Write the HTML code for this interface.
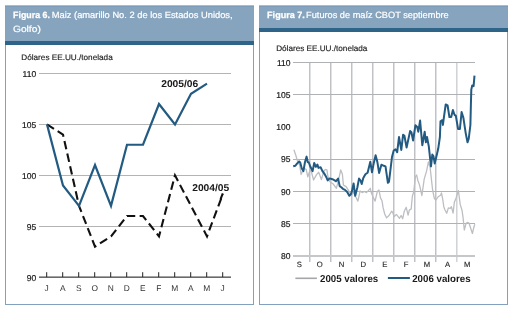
<!DOCTYPE html>
<html><head><meta charset="utf-8"><style>
html,body{margin:0;padding:0;background:#fff;}
body{width:512px;height:310px;overflow:hidden;position:relative;}
svg{position:absolute;left:0;top:0;will-change:transform;}
text{font-family:"Liberation Sans", sans-serif;text-rendering:geometricPrecision;}
</style></head><body>
<svg width="512" height="310" viewBox="0 0 512 310">
<rect x="5.5" y="5.5" width="248" height="299" fill="#fff" stroke="#82a1bf" stroke-width="1"/>
<rect x="5" y="5" width="249" height="36" fill="#87a4bf"/>
<rect x="5" y="5" width="249" height="1" fill="#a9bdd0"/>
<rect x="5" y="6" width="249" height="1" fill="#7d9cb9"/>
<rect x="5" y="41" width="249" height="4" fill="#2d6487"/>
<rect x="259.5" y="5.5" width="248" height="299" fill="#fff" stroke="#82a1bf" stroke-width="1"/>
<rect x="259" y="5" width="249" height="23" fill="#87a4bf"/>
<rect x="259" y="5" width="249" height="1" fill="#a9bdd0"/>
<rect x="259" y="6" width="249" height="1" fill="#7d9cb9"/>
<rect x="259" y="28" width="249" height="4" fill="#2d6487"/>
<text x="13.1" y="18.2" font-size="9.1" font-weight="bold" fill="#fff" stroke="#fff" stroke-width="0.25" textLength="36.91" lengthAdjust="spacingAndGlyphs">Figura 6.</text>
<text x="51.8" y="18.3" font-size="9.1" font-weight="normal" fill="#fff" stroke="#fff" stroke-width="0.2" textLength="180.81" lengthAdjust="spacingAndGlyphs">Maiz (amarillo No. 2 de los Estados Unidos,</text>
<text x="12.9" y="31.5" font-size="9.1" font-weight="normal" fill="#fff" stroke="#fff" stroke-width="0.2" textLength="27.97" lengthAdjust="spacingAndGlyphs">Golfo)</text>
<text x="267.1" y="18.1" font-size="9.1" font-weight="bold" fill="#fff" stroke="#fff" stroke-width="0.25" textLength="37.71" lengthAdjust="spacingAndGlyphs">Figura 7.</text>
<text x="306.1" y="18.1" font-size="9.1" font-weight="normal" fill="#fff" stroke="#fff" stroke-width="0.2" textLength="142.64" lengthAdjust="spacingAndGlyphs">Futuros de maíz CBOT septiembre</text>
<text x="21.3" y="59.9" font-size="8.0" font-weight="normal" fill="#222" stroke="#222" stroke-width="0.15" textLength="91.39" lengthAdjust="spacingAndGlyphs">Dólares EE.UU./tonelada</text>
<rect x="39" y="73" width="192" height="1" fill="#b4b4b4"/>
<rect x="39" y="124" width="192" height="1" fill="#b4b4b4"/>
<rect x="39" y="175" width="192" height="1" fill="#b4b4b4"/>
<rect x="39" y="226" width="192" height="1" fill="#b4b4b4"/>
<text x="36.15" y="76.95" font-size="8.5" fill="#1a1a1a" stroke="#1a1a1a" stroke-width="0.2" text-anchor="end">110</text>
<text x="36.15" y="127.85" font-size="8.5" fill="#1a1a1a" stroke="#1a1a1a" stroke-width="0.2" text-anchor="end">105</text>
<text x="36.15" y="178.75" font-size="8.5" fill="#1a1a1a" stroke="#1a1a1a" stroke-width="0.2" text-anchor="end">100</text>
<text x="36.15" y="229.65" font-size="8.5" fill="#1a1a1a" stroke="#1a1a1a" stroke-width="0.2" text-anchor="end">95</text>
<text x="36.15" y="280.55" font-size="8.5" fill="#1a1a1a" stroke="#1a1a1a" stroke-width="0.2" text-anchor="end">90</text>
<rect x="39" y="276.5" width="192" height="1.3" fill="#484848"/>
<line x1="46.70" y1="272.2" x2="46.70" y2="277.10" stroke="#222" stroke-width="1"/>
<text x="46.70" y="290.8" font-size="8.4" fill="#333" text-anchor="middle">J</text>
<line x1="62.70" y1="272.2" x2="62.70" y2="277.10" stroke="#222" stroke-width="1"/>
<text x="62.70" y="290.8" font-size="8.4" fill="#333" text-anchor="middle">A</text>
<line x1="78.70" y1="272.2" x2="78.70" y2="277.10" stroke="#222" stroke-width="1"/>
<text x="78.70" y="290.8" font-size="8.4" fill="#333" text-anchor="middle">S</text>
<line x1="94.70" y1="272.2" x2="94.70" y2="277.10" stroke="#222" stroke-width="1"/>
<text x="94.70" y="290.8" font-size="8.4" fill="#333" text-anchor="middle">O</text>
<line x1="110.70" y1="272.2" x2="110.70" y2="277.10" stroke="#222" stroke-width="1"/>
<text x="110.70" y="290.8" font-size="8.4" fill="#333" text-anchor="middle">N</text>
<line x1="126.70" y1="272.2" x2="126.70" y2="277.10" stroke="#222" stroke-width="1"/>
<text x="126.70" y="290.8" font-size="8.4" fill="#333" text-anchor="middle">D</text>
<line x1="142.70" y1="272.2" x2="142.70" y2="277.10" stroke="#222" stroke-width="1"/>
<text x="142.70" y="290.8" font-size="8.4" fill="#333" text-anchor="middle">E</text>
<line x1="158.70" y1="272.2" x2="158.70" y2="277.10" stroke="#222" stroke-width="1"/>
<text x="158.70" y="290.8" font-size="8.4" fill="#333" text-anchor="middle">F</text>
<line x1="174.70" y1="272.2" x2="174.70" y2="277.10" stroke="#222" stroke-width="1"/>
<text x="174.70" y="290.8" font-size="8.4" fill="#333" text-anchor="middle">M</text>
<line x1="190.70" y1="272.2" x2="190.70" y2="277.10" stroke="#222" stroke-width="1"/>
<text x="190.70" y="290.8" font-size="8.4" fill="#333" text-anchor="middle">A</text>
<line x1="206.70" y1="272.2" x2="206.70" y2="277.10" stroke="#222" stroke-width="1"/>
<text x="206.70" y="290.8" font-size="8.4" fill="#333" text-anchor="middle">M</text>
<line x1="222.70" y1="272.2" x2="222.70" y2="277.10" stroke="#222" stroke-width="1"/>
<text x="222.70" y="290.8" font-size="8.4" fill="#333" text-anchor="middle">J</text>
<polyline points="47,124.40 63,134.58 79,205.84 95,246.56 111,236.38 127,216.02 143,216.02 159,236.38 175,175.30 191,205.84 207,236.38 223,193.62" fill="none" stroke="#111" stroke-width="2.1" stroke-dasharray="8.5,4.4" stroke-dashoffset="0.25" stroke-linejoin="miter"/>
<line x1="220.60" y1="199.24" x2="222.70" y2="193.62" stroke="#111" stroke-width="2.1"/>
<polyline points="47,124.40 63,185.48 79,205.84 95,165.12 111,205.84 127,144.76 143,144.76 159,104.04 175,124.40 191,93.86 207,83.68" fill="none" stroke="#235a82" stroke-width="2.2" stroke-linejoin="miter"/>
<text x="161.2" y="86.55" font-size="9.9" font-weight="bold" fill="#1a1a1a" stroke="#1a1a1a" stroke-width="0" textLength="37.1" lengthAdjust="spacingAndGlyphs">2005/06</text>
<text x="192.2" y="190.8" font-size="9.9" font-weight="bold" fill="#1a1a1a" stroke="#1a1a1a" stroke-width="0" textLength="37.1" lengthAdjust="spacingAndGlyphs">2004/05</text>
<text x="276.2" y="51.2" font-size="8.0" font-weight="normal" fill="#222" stroke="#222" stroke-width="0.15" textLength="91.19" lengthAdjust="spacingAndGlyphs">Dólares EE.UU./tonelada</text>
<rect x="309" y="62.30" width="1" height="199.70" fill="#c0c1c5"/>
<rect x="310" y="62.30" width="1" height="199.70" fill="#e0e1e5"/>
<rect x="330" y="62.30" width="1" height="199.70" fill="#c0c1c5"/>
<rect x="331" y="62.30" width="1" height="199.70" fill="#e0e1e5"/>
<rect x="351" y="62.30" width="1" height="199.70" fill="#c0c1c5"/>
<rect x="352" y="62.30" width="1" height="199.70" fill="#e0e1e5"/>
<rect x="372" y="62.30" width="1" height="199.70" fill="#c0c1c5"/>
<rect x="373" y="62.30" width="1" height="199.70" fill="#e0e1e5"/>
<rect x="393" y="62.30" width="1" height="199.70" fill="#c0c1c5"/>
<rect x="394" y="62.30" width="1" height="199.70" fill="#e0e1e5"/>
<rect x="414" y="62.30" width="1" height="199.70" fill="#c0c1c5"/>
<rect x="415" y="62.30" width="1" height="199.70" fill="#e0e1e5"/>
<rect x="435" y="62.30" width="1" height="199.70" fill="#c0c1c5"/>
<rect x="436" y="62.30" width="1" height="199.70" fill="#e0e1e5"/>
<rect x="456" y="62.30" width="1" height="199.70" fill="#d2d3d7"/>
<rect x="457" y="62.30" width="1" height="199.70" fill="#e6e7eb"/>
<rect x="293" y="62" width="182" height="1" fill="#b0b1b5"/>
<text x="290.55" y="65.75" font-size="8.5" fill="#1a1a1a" stroke="#1a1a1a" stroke-width="0.2" text-anchor="end">110</text>
<rect x="293" y="94" width="182" height="1" fill="#b0b1b5"/>
<text x="290.55" y="97.95" font-size="8.5" fill="#1a1a1a" stroke="#1a1a1a" stroke-width="0.2" text-anchor="end">105</text>
<text x="290.55" y="130.15" font-size="8.5" fill="#1a1a1a" stroke="#1a1a1a" stroke-width="0.2" text-anchor="end">100</text>
<rect x="293" y="159" width="182" height="1" fill="#b0b1b5"/>
<text x="290.55" y="162.35" font-size="8.5" fill="#1a1a1a" stroke="#1a1a1a" stroke-width="0.2" text-anchor="end">95</text>
<rect x="293" y="191" width="182" height="1" fill="#b0b1b5"/>
<text x="290.55" y="194.55" font-size="8.5" fill="#1a1a1a" stroke="#1a1a1a" stroke-width="0.2" text-anchor="end">90</text>
<rect x="293" y="223" width="182" height="1" fill="#b0b1b5"/>
<text x="290.55" y="226.75" font-size="8.5" fill="#1a1a1a" stroke="#1a1a1a" stroke-width="0.2" text-anchor="end">85</text>
<rect x="293" y="255" width="182" height="2" fill="#c6c7cb"/>
<text x="290.55" y="258.95" font-size="8.5" fill="#1a1a1a" stroke="#1a1a1a" stroke-width="0.2" text-anchor="end">80</text>
<text x="299.3" y="266.8" font-size="7.7" fill="#222" stroke="#222" stroke-width="0.1" text-anchor="middle">S</text>
<text x="319.7" y="266.8" font-size="7.7" fill="#222" stroke="#222" stroke-width="0.1" text-anchor="middle">O</text>
<text x="341.5" y="266.8" font-size="7.7" fill="#222" stroke="#222" stroke-width="0.1" text-anchor="middle">N</text>
<text x="363.3" y="266.8" font-size="7.7" fill="#222" stroke="#222" stroke-width="0.1" text-anchor="middle">D</text>
<text x="384.8" y="266.8" font-size="7.7" fill="#222" stroke="#222" stroke-width="0.1" text-anchor="middle">E</text>
<text x="406.2" y="266.8" font-size="7.7" fill="#222" stroke="#222" stroke-width="0.1" text-anchor="middle">F</text>
<text x="426.9" y="266.8" font-size="7.7" fill="#222" stroke="#222" stroke-width="0.1" text-anchor="middle">M</text>
<text x="447.5" y="266.8" font-size="7.7" fill="#222" stroke="#222" stroke-width="0.1" text-anchor="middle">A</text>
<text x="467.2" y="266.8" font-size="7.7" fill="#222" stroke="#222" stroke-width="0.1" text-anchor="middle">M</text>
<polyline points="293.9,149.7 295.8,155.2 297.3,160.5 299.7,165.2 301.1,174.5 303.9,168.3 306.2,169.4 307.8,176.8 309.3,172.2 310.9,170.2 313.6,180 316.4,174.9 318.7,172.2 321.4,179.6 323.8,171.4 325.3,169.4 326.9,169.8 327.7,175.3 328.9,180 330,181.8 333.2,184 336.4,188.3 338.6,179.7 340.7,170 342.4,174.3 343.4,185 346.1,186.6 348.8,190.9 351.5,195.8 353.1,192 355.2,195.8 357.9,201.1 360.1,190.9 362.2,192.6 364.4,191.5 366.5,192.6 368.1,190.9 370.3,188.3 371.4,193.1 373.5,197.9 375.1,201.1 377.3,191.5 378.9,189.9 380.5,197.9 382,200.7 383.1,207.7 384.7,214 386.6,217.9 389,215.5 391.7,211.2 392.9,212.8 394.1,216.7 396.4,214.4 399.5,218.3 401.1,215.5 402.7,218.7 404.2,211.6 406.2,207.3 408.1,215.1 409.3,210.1 411.25,208.9 411.6,203.8 412.4,196 413.7,192 415.4,176.7 416.6,175 417.8,180.2 419.5,184.9 421.9,195.5 424.2,179.1 426.6,170.9 428.4,162 430.1,167.3 432.6,190 434.4,198.7 436.1,199.9 437.9,197 440.8,195 441.4,192.9 442.6,198.5 443.8,206.7 444.9,209.7 446.7,213.2 448.4,207.9 450.2,208.5 451.4,206.7 453.1,213.2 454.3,202.6 456.1,197.9 458.4,190.5 460.2,204.4 462,210.2 463.1,217.8 464.3,230 466,223.6 467.2,222.4 469,223 470.7,228.3 472.4,233.5 473.6,228.3 474.8,224.2" fill="none" stroke="#bcbec2" stroke-width="1.3" stroke-linejoin="round"/>
<polyline points="293.2,166.3 295.4,165.7 297,163.6 299.1,161.4 300.2,162.5 301.8,168.4 303.4,171.1 305,162 306.6,156.6 307.7,162 308.8,162.5 310.4,166.8 312.6,171.1 314.2,163 315.8,166.8 317.4,164.6 318.5,167.9 320.6,167.3 322.2,170.6 324.6,174.1 326.5,177.6 327.7,180.4 329.6,178.4 332.4,179.2 334.7,180.4 335.9,181.3 338.1,178.6 339.7,186.1 341.3,187.2 342.9,188.8 345,189.9 347.2,192 349.3,195.8 350.9,194.2 352,190.9 353.6,183.4 355.2,195.8 357.4,187.2 359,178.6 360.6,180.7 361.7,184 363.3,178 365.4,174.3 367.6,172.7 370.3,161.7 372,172.3 373.8,162.9 375.6,155.3 377.3,161.7 379.1,172.9 381.4,164.7 383.8,165.8 385.5,166.4 387.9,182.8 389,181.7 392,157 393.7,150.5 395.5,149.3 397.2,152.2 399,137 401.3,149.9 403.1,134.7 404.4,135.8 406.6,147.5 410.1,131.1 411.4,132.2 413.1,140.5 415.4,125.3 417.2,127 418.3,131.7 420.1,120.6 422.3,145.2 424.7,131.8 425.9,142.3 427,137 428.8,146.4 431,166.5 432.3,154.6 433.5,156.4 434.7,163.4 436.4,156.4 438.2,148.8 439.9,137 440.5,121.4 442.3,120.2 442.9,124.9 444,116.7 445.7,104.5 447.6,105.5 449.4,117 451.2,117 452.9,110 454.6,115 455.8,115.6 458.1,129 459.9,129 461.6,112 463.4,117.9 465.7,133.1 467.5,142.3 468.7,139 470.4,125 471,100.2 471.3,89.6 472.2,85.5 473.6,86.1 474.5,75.6" fill="none" stroke="#235a82" stroke-width="2" stroke-linejoin="round"/>
<line x1="295.4" y1="278.3" x2="316.9" y2="278.3" stroke="#a4a6aa" stroke-width="1.6"/>
<text x="320.0" y="281.8" font-size="10" font-weight="bold" fill="#1a1a1a" stroke="#1a1a1a" stroke-width="0" textLength="58.26" lengthAdjust="spacingAndGlyphs">2005 valores</text>
<line x1="387.9" y1="278" x2="409.9" y2="278" stroke="#235a82" stroke-width="2"/>
<text x="412.2" y="281.9" font-size="10" font-weight="bold" fill="#1a1a1a" stroke="#1a1a1a" stroke-width="0" textLength="58.46" lengthAdjust="spacingAndGlyphs">2006 valores</text>
</svg>
</body></html>
